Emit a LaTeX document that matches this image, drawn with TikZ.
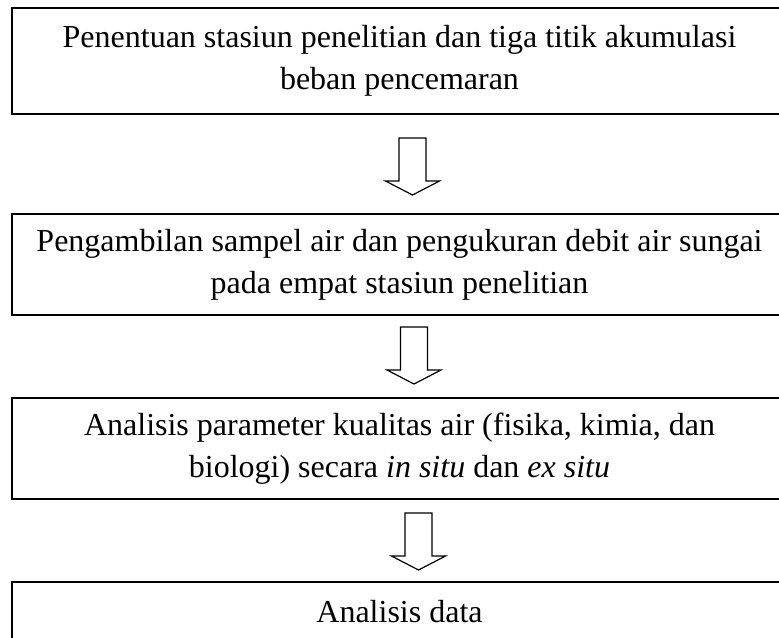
\documentclass[tikz,border=0pt]{standalone}
\usepackage{fontspec}
\setmainfont{Liberation Serif}
\tikzset{
  stepbox/.style={draw=black, line width=1pt, rectangle, align=center,
    minimum width=387.5pt, inner sep=0pt,
    font=\fontsize{16}{21}\selectfont},
  pics/blockarrow/.style={code={
    \draw[line width=0.6pt, fill=white] (-13.5,0) -- (13.5,0) -- (13.5,43) -- (27,43)
      -- (0,57) -- (-27,43) -- (-13.5,43) -- cycle;}}
}
\begin{document}
\begin{tikzpicture}[x=0.5pt,y=-0.5pt]
\clip (0,0) rectangle (779,637);
\fill[white] (0,0) rectangle (779,637);
\node[stepbox, minimum height=53pt] (b1) at (399.5,61)
  {Penentuan stasiun penelitian dan tiga titik akumulasi\\beban pencemaran};
\node[stepbox, minimum height=50.5pt] (b2) at (399.5,264.5)
  {Pengambilan sampel air dan pengukuran debit air sungai\\pada empat stasiun penelitian};
\node[stepbox, minimum height=50.5pt] (b3) at (399.5,448.5)
  {Analisis parameter kualitas air (fisika, kimia, dan\\biologi) secara \textit{in situ} dan \textit{ex situ}};
\node[stepbox, minimum height=30pt] (b4) at (399.5,612)
  {Analisis data};
\coordinate (a1) at (412.5,138);
\coordinate (a2) at (414,327);
\coordinate (a3) at (418.5,513);
\pic at (a1) {blockarrow};
\pic at (a2) {blockarrow};
\pic at (a3) {blockarrow};
\end{tikzpicture}
\end{document}
